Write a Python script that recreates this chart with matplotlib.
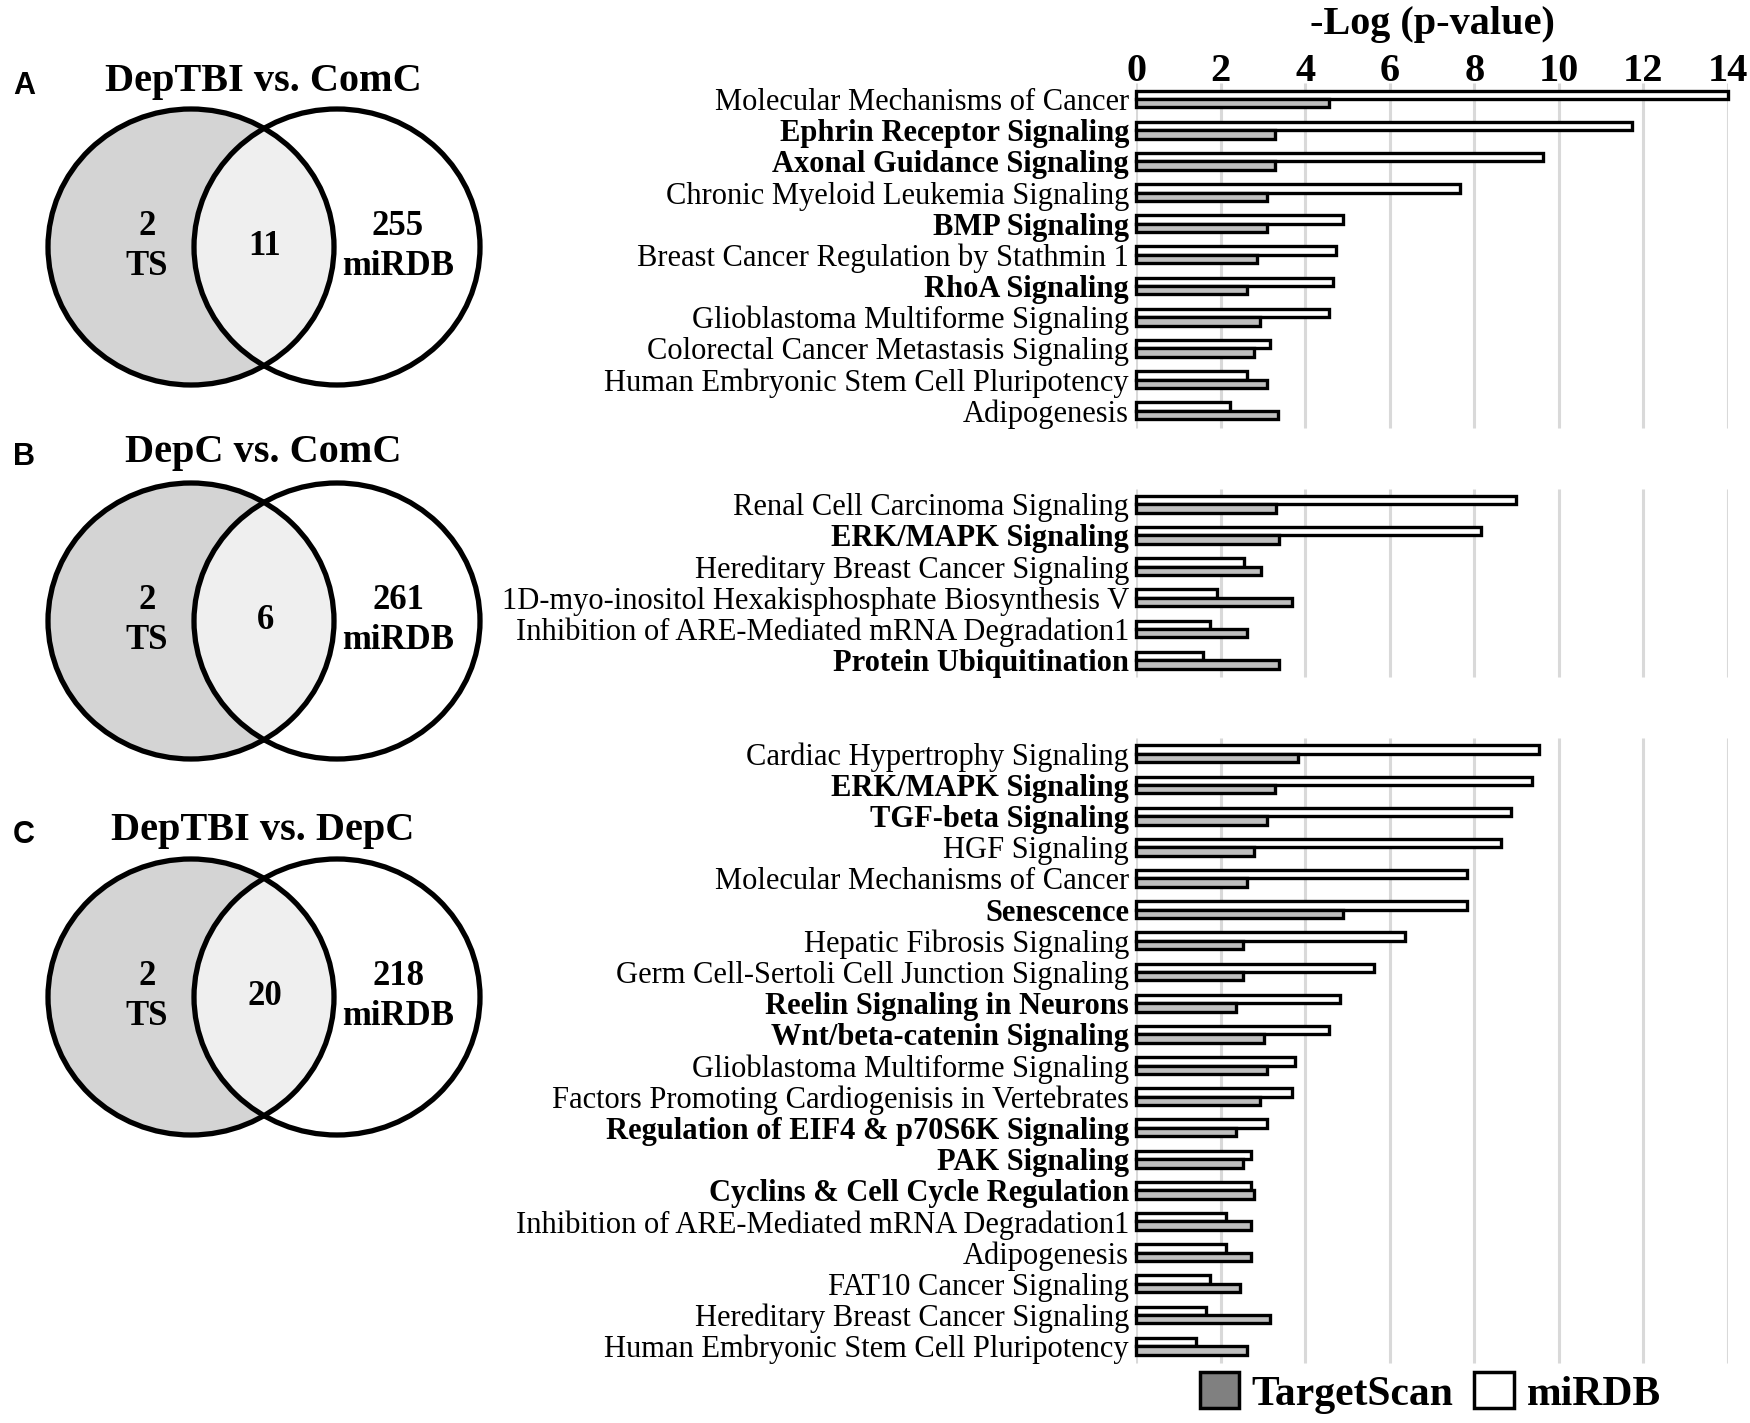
import matplotlib
matplotlib.use('Agg')
import matplotlib.pyplot as plt
from matplotlib.patches import Ellipse, Patch
import numpy as np

plt.rcParams['font.family'] = ['Liberation Serif', 'DejaVu Serif']

# ---------------------------------------------------------------------------
# Data: -log(p) per pathway, TargetScan (TS) and miRDB
# ---------------------------------------------------------------------------
a_terms = ['Molecular Mechanisms of Cancer', 'Ephrin Receptor Signaling',
           'Axonal Guidance Signaling', 'Chronic Myeloid Leukemia Signaling',
           'BMP Signaling', 'Breast Cancer Regulation by Stathmin 1',
           'RhoA Signaling', 'Glioblastoma Multiforme Signaling',
           'Colorectal Cancer Metastasis Signaling',
           'Human Embryonic Stem Cell Pluripotency', 'Adipogenesis']
a_ts = [4.57, 3.28, 3.28, 3.10, 3.10, 2.86, 2.62, 2.94, 2.78, 3.10, 3.35]
a_mirdb = [14.0, 11.74, 9.62, 7.66, 4.90, 4.74, 4.65, 4.57, 3.18, 2.62, 2.22]
a_bold = ['Ephrin Receptor Signaling', 'Axonal Guidance Signaling',
          'BMP Signaling', 'RhoA Signaling']

b_terms = ['Renal Cell Carcinoma Signaling', 'ERK/MAPK Signaling',
           'Hereditary Breast Cancer Signaling',
           '1D-myo-inositol Hexakisphosphate Biosynthesis V',
           'Inhibition of ARE-Mediated mRNA Degradation1',
           'Protein Ubiquitination']
b_ts = [3.30, 3.37, 2.96, 3.69, 2.63, 3.37]
b_mirdb = [8.98, 8.17, 2.55, 1.91, 1.74, 1.58]
b_bold = ['ERK/MAPK Signaling', 'Protein Ubiquitination']

c_terms = ['Cardiac Hypertrophy Signaling', 'ERK/MAPK Signaling',
           'TGF-beta Signaling', 'HGF Signaling',
           'Molecular Mechanisms of Cancer', 'Senescence',
           'Hepatic Fibrosis Signaling',
           'Germ Cell-Sertoli Cell Junction Signaling',
           'Reelin Signaling in Neurons', 'Wnt/beta-catenin Signaling',
           'Glioblastoma Multiforme Signaling',
           'Factors Promoting Cardiogenisis in Vertebrates',
           'Regulation of EIF4 & p70S6K Signaling', 'PAK Signaling',
           'Cyclins & Cell Cycle Regulation',
           'Inhibition of ARE-Mediated mRNA Degradation1', 'Adipogenesis',
           'FAT10 Cancer Signaling', 'Hereditary Breast Cancer Signaling',
           'Human Embryonic Stem Cell Pluripotency']
c_ts = [3.84, 3.28, 3.10, 2.78, 2.62, 4.90, 2.54, 2.54, 2.37, 3.03,
        3.10, 2.94, 2.37, 2.54, 2.78, 2.71, 2.71, 2.47, 3.18, 2.62]
c_mirdb = [9.54, 9.37, 8.88, 8.64, 7.83, 7.83, 6.37, 5.63, 4.82, 4.57,
           3.76, 3.69, 3.10, 2.71, 2.71, 2.14, 2.14, 1.74, 1.66, 1.41]
c_bold = ['ERK/MAPK Signaling', 'TGF-beta Signaling', 'Senescence',
          'Reelin Signaling in Neurons', 'Wnt/beta-catenin Signaling',
          'Regulation of EIF4 & p70S6K Signaling', 'PAK Signaling',
          'Cyclins & Cell Cycle Regulation']

# Venn counts: (TS only, shared, miRDB only)
venn_titles = ['DepTBI vs. ComC', 'DepC vs. ComC', 'DepTBI vs. DepC']
venn_letters = ['A', 'B', 'C']
venn_ts_only = [2, 2, 2]
venn_shared = [11, 6, 20]
venn_mirdb_only = [255, 261, 218]

W, H = 1750, 1423
fig = plt.figure(figsize=(W / 100, H / 100), dpi=100)

# ---------------------------------------------------------------------------
# Bar chart
# ---------------------------------------------------------------------------
ax = fig.add_axes([1136 / W, 1 - 1368 / H, (1728 - 1136) / W, 1300.2 / H])

panels = [(a_terms, a_ts, a_mirdb, a_bold),
          (b_terms, b_ts, b_mirdb, b_bold),
          (c_terms, c_ts, c_mirdb, c_bold)]
gap = 2
bar_h = 0.27
ts_color = '#bfbfbf'
grid_color = '#d9d9d9'

all_y, all_labels, all_bold = [], [], []
start = 0
for terms, ts, mirdb, bold in panels:
    y = start + np.arange(len(terms))
    ax.vlines(np.arange(0, 15, 2), y[0] - 0.5, y[-1] + 0.55,
              colors=grid_color, linewidth=2.2, zorder=0)
    ax.barh(y - bar_h / 2, mirdb, height=bar_h, color='white',
            edgecolor='black', linewidth=2.4, zorder=3, clip_on=False)
    ax.barh(y + bar_h / 2, ts, height=bar_h, color=ts_color,
            edgecolor='black', linewidth=2.4, zorder=3, clip_on=False)
    all_y.extend(y)
    all_labels.extend(terms)
    all_bold.extend([t in bold for t in terms])
    start = y[-1] + 1 + gap

ax.set_xlim(0, 14)
ax.set_ylim(40.7, -1.0)
ax.set_yticks(all_y)
ax.set_yticklabels(all_labels, fontsize=22)
for lab, b in zip(ax.get_yticklabels(), all_bold):
    if b:
        lab.set_fontweight('bold')
ax.tick_params(axis='y', length=0, pad=5)

ax.set_xticks(np.arange(0, 15, 2))
ax.tick_params(axis='x', top=True, labeltop=True, bottom=False,
               labelbottom=False, length=0, pad=-16, labelsize=29)
for lab in ax.get_xticklabels():
    lab.set_fontweight('bold')
for s in ax.spines.values():
    s.set_visible(False)

fig.text(1432 / W, 1 - 34 / H, '-Log (p-value)', ha='center', va='baseline',
         fontsize=29, fontweight='bold')

handles = [Patch(facecolor='#808080', edgecolor='black', linewidth=2.5),
           Patch(facecolor='white', edgecolor='black', linewidth=2.5)]
fig.legend(handles, ['TargetScan', 'miRDB'], loc='center',
           bbox_to_anchor=(1430 / W, 1 - 1393 / H), ncol=2, frameon=False,
           prop={'weight': 'bold', 'size': 30}, handlelength=0.95,
           handleheight=0.95, handletextpad=0.3, columnspacing=0.5)

# ---------------------------------------------------------------------------
# Venn diagrams (axes in pixel units)
# ---------------------------------------------------------------------------
vx = fig.add_axes([0, 0, 560 / W, 1])
vx.set_xlim(0, 560)
vx.set_ylim(H, 0)
vx.axis('off')

centers_y = [247, 621, 997]
title_base = [91, 462, 840]
cx_left, cx_right = 191, 337
ew, eh = 286, 276

for i in range(3):
    cy = centers_y[i]
    left_fill = Ellipse((cx_left, cy), ew, eh, facecolor='#d4d4d4',
                        edgecolor='none', zorder=1)
    vx.add_patch(left_fill)
    inter = Ellipse((cx_right, cy), ew, eh, facecolor='#efefef',
                    edgecolor='none', zorder=2)
    vx.add_patch(inter)
    inter.set_clip_path(left_fill)
    for cx in (cx_left, cx_right):
        vx.add_patch(Ellipse((cx, cy), ew, eh, facecolor='none',
                             edgecolor='black', linewidth=3.8, zorder=3))

    vx.text(263, title_base[i], venn_titles[i], ha='center', va='baseline',
            fontsize=29, fontweight='bold')
    vx.text(13, title_base[i] + 3, venn_letters[i], ha='left', va='baseline',
            fontsize=22, fontweight='bold', family='Liberation Sans')

    vx.text(147, cy - 12, str(venn_ts_only[i]), ha='center', va='baseline',
            fontsize=25, fontweight='bold', zorder=4)
    vx.text(147, cy + 28, 'TS', ha='center', va='baseline',
            fontsize=25, fontweight='bold', zorder=4)
    vx.text(265, cy + 8, str(venn_shared[i]), ha='center', va='baseline',
            fontsize=25, fontweight='bold', zorder=4)
    vx.text(398, cy - 12, str(venn_mirdb_only[i]), ha='center', va='baseline',
            fontsize=25, fontweight='bold', zorder=4)
    vx.text(398, cy + 28, 'miRDB', ha='center', va='baseline',
            fontsize=25, fontweight='bold', zorder=4)

fig.savefig('out.png', dpi=100)
